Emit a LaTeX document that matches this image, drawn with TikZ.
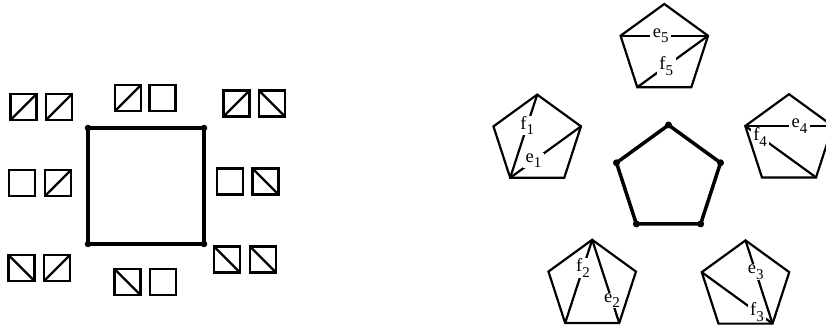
\documentclass[tikz,border=0pt]{standalone}
\usepackage{fontspec}
\setmainfont{Liberation Serif}
\usetikzlibrary{calc}
\newcommand\lbl[2]{\fontsize{18.5pt}{18.5pt}\selectfont #1\raisebox{-5.5pt}{\fontsize{15pt}{15pt}\selectfont #2}}
\newcommand\pentcoords[4]{%
  \coordinate (#1) at (#2,#3);
  \foreach \k/\a in {1/90,2/18,3/-54,4/-126,5/162}{\coordinate (#1-\k) at ($(#1)+(\a:#4)$);}%
}
\begin{document}
\begin{tikzpicture}[x=1pt,y=-1pt,
  thinedge/.style={line width=2.2pt},
  thickedge/.style={line width=3.5pt},
  sqbox/.style={draw,line width=2.2pt,minimum size=26pt,inner sep=0pt,outer sep=0pt},
  dot/.style={circle,fill,inner sep=0pt,minimum size=7pt},
  lab/.style={fill=white,inner xsep=2.5pt,inner ysep=0.5pt}]
\useasboundingbox (0,0) rectangle (826,328);

% ---------- left: big square ----------
\coordinate (A) at (88,128);
\coordinate (B) at (204,128);
\coordinate (C) at (204,244);
\coordinate (D) at (88,244);
\draw[thickedge] (A) -- (B) -- (C) -- (D) -- cycle;
\foreach \p in {A,B,C,D} \node[dot,minimum size=6.5pt] at (\p) {};

% ---------- small squares ----------
% top-left
\node[sqbox] (tl1) at (23.5,107) {};
\node[sqbox] (tl2) at (59,107) {};
\draw[thinedge] (tl1.south west) -- (tl1.north east);
\draw[thinedge] (tl2.south west) -- (tl2.north east);
% top
\node[sqbox] (t1) at (128,98) {};
\node[sqbox] (t2) at (162.5,98) {};
\draw[thinedge] (t1.south west) -- (t1.north east);
% top-right
\node[sqbox] (tr1) at (236.5,103.5) {};
\node[sqbox] (tr2) at (272,103.5) {};
\draw[thinedge] (tr1.south west) -- (tr1.north east);
\draw[thinedge] (tr2.north west) -- (tr2.south east);
% middle-left
\node[sqbox] (ml1) at (22,183) {};
\node[sqbox] (ml2) at (58,183) {};
\draw[thinedge] (ml2.south west) -- (ml2.north east);
% middle-right
\node[sqbox] (mr1) at (230,181.5) {};
\node[sqbox] (mr2) at (265.5,181.5) {};
\draw[thinedge] (mr2.north west) -- (mr2.south east);
% bottom-left
\node[sqbox] (bl1) at (21.5,268) {};
\node[sqbox] (bl2) at (57,268) {};
\draw[thinedge] (bl1.north west) -- (bl1.south east);
\draw[thinedge] (bl2.south west) -- (bl2.north east);
% bottom
\node[sqbox] (b1) at (127.5,282) {};
\node[sqbox] (b2) at (163,282) {};
\draw[thinedge] (b1.north west) -- (b1.south east);
% bottom-right
\node[sqbox] (br1) at (227,259.5) {};
\node[sqbox] (br2) at (263,259.5) {};
\draw[thinedge] (br1.north west) -- (br1.south east);
\draw[thinedge] (br2.north west) -- (br2.south east);

% ---------- right: pentagons ----------
\pentcoords{Q}{668.5}{179.7}{54.7pt}
\pentcoords{P5}{664.3}{50}{46pt}
\pentcoords{P1}{537.2}{140.6}{46pt}
\pentcoords{P4}{789}{140.2}{46pt}
\pentcoords{P2}{592.2}{285.8}{46pt}
\pentcoords{P3}{745.5}{286.4}{46pt}

\draw[thickedge] (Q-1) -- (Q-2) -- (Q-3) -- (Q-4) -- (Q-5) -- cycle;
\foreach \k in {1,...,5} \node[dot] at (Q-\k) {};

% diagonals with labels
\draw[thinedge] (P5-5) -- (P5-2) node[lab,pos=0.46] (le5) {\lbl{e}{5}};
\draw[thinedge] (P5-4) -- (P5-2) node[lab,pos=0.41] (lf5) {\lbl{f}{5}};

\draw[thinedge] (P1-4) -- (P1-1) node[lab,pos=0.63] (lf1) {\lbl{f}{1}};
\draw[thinedge] (P1-4) -- (P1-2) node[lab,pos=0.33] (le1) {\lbl{e}{1}};

\draw[thinedge] (P4-5) -- (P4-3) node[lab,pos=0.21] (lf4) {\lbl{f}{4}};
\draw[thinedge] (P4-5) -- (P4-2) node[lab,pos=0.62] (le4) {\lbl{e}{4}};

\draw[thinedge] (P2-1) -- (P2-4) node[lab,pos=0.34] (lf2) {\lbl{f}{2}};
\draw[thinedge] (P2-1) -- (P2-3) node[lab,pos=0.73] (le2) {\lbl{e}{2}};

\draw[thinedge] (P3-5) -- (P3-3) node[lab,pos=0.78] (lf3) {\lbl{f}{3}};
\draw[thinedge] (P3-1) -- (P3-3) node[lab,pos=0.38] (le3) {\lbl{e}{3}};

% outlines on top
\foreach \n in {P1,P2,P3,P4,P5}
  \draw[thinedge] (\n-1) -- (\n-2) -- (\n-3) -- (\n-4) -- (\n-5) -- cycle;
\end{tikzpicture}
\end{document}
